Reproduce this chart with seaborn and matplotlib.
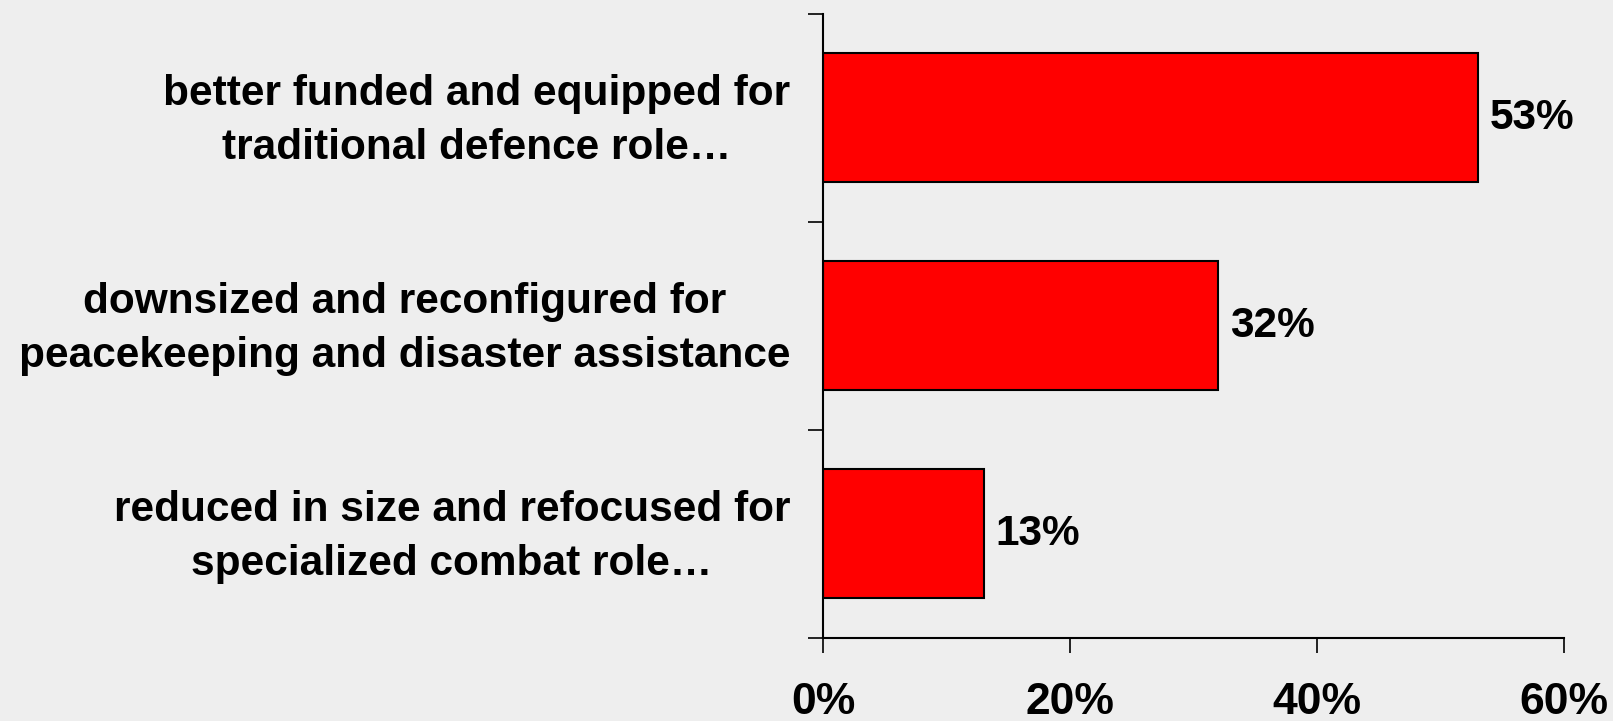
import matplotlib
matplotlib.use("Agg")
import matplotlib.pyplot as plt
import matplotlib.transforms as mtransforms
import seaborn as sns
import pandas as pd

categories = [
    "better funded and equipped for\ntraditional defence role\u2026",
    "downsized and reconfigured for\npeacekeeping and disaster assistance",
    "reduced in size and refocused for\nspecialized combat role\u2026",
]
values = [53, 32, 13]
xtick_values = [0, 20, 40, 60]
xtick_labels = ["0%", "20%", "40%", "60%"]

BG = "#EEEEEE"
sns.set_style("white")
plt.rcParams["font.family"] = ["Liberation Sans", "DejaVu Sans"]
plt.rcParams["text.color"] = "black"
plt.rcParams["xtick.color"] = "black"
plt.rcParams["ytick.color"] = "black"
plt.rcParams["xtick.labelcolor"] = "black"
plt.rcParams["ytick.labelcolor"] = "black"

df = pd.DataFrame({"category": categories, "value": values})

fig = plt.figure(figsize=(16.13, 7.21), dpi=100, facecolor=BG)
ax = fig.add_axes([0.5105, 0.1158, 0.9696 - 0.5105, 0.9806 - 0.1158])
ax.set_facecolor(BG)

sns.barplot(data=df, x="value", y="category", color="#FF0000", saturation=1,
            edgecolor="black", linewidth=1.5, width=0.62, orient="h", ax=ax)

ax.set_xlim(0, 60)
ax.set_ylim(2.5, -0.5)
ax.set_xlabel("")
ax.set_ylabel("")

for s in ["top", "right"]:
    ax.spines[s].set_visible(False)
for s in ["left", "bottom"]:
    ax.spines[s].set_color("black")
    ax.spines[s].set_linewidth(1.5)

ax.set_xticks(xtick_values)
ax.set_xticklabels(xtick_labels, fontweight="bold", fontsize=32, color="black")
ax.tick_params(axis="x", bottom=True, direction="out", length=10.8, width=1.2,
               color="black", pad=21)

ax.set_yticks([-0.5, 0.5, 1.5, 2.5])
ax.set_yticklabels([])
ax.tick_params(axis="y", which="major", left=True, direction="out", length=10.8,
               width=1.2, color="black")
ax.set_yticks([0, 1, 2], minor=True)
ax.set_yticklabels(categories, minor=True, fontweight="bold", fontsize=30.5, color="black")
ax.tick_params(axis="y", which="minor", left=True, length=0, pad=24)
for lab in ax.get_yticklabels(minor=True):
    lab.set_multialignment("center")
    lab.set_linespacing(1.46)
    lab.set_transform(mtransforms.offset_copy(lab.get_transform(), fig=fig,
                                              y=5.9, units="points"))

for cont in ax.containers:
    ax.bar_label(cont, fmt="%d%%", padding=8.6, fontsize=30.5, fontweight="bold",
                 color="black")

fig.savefig("out.png", dpi=100, facecolor=BG)
